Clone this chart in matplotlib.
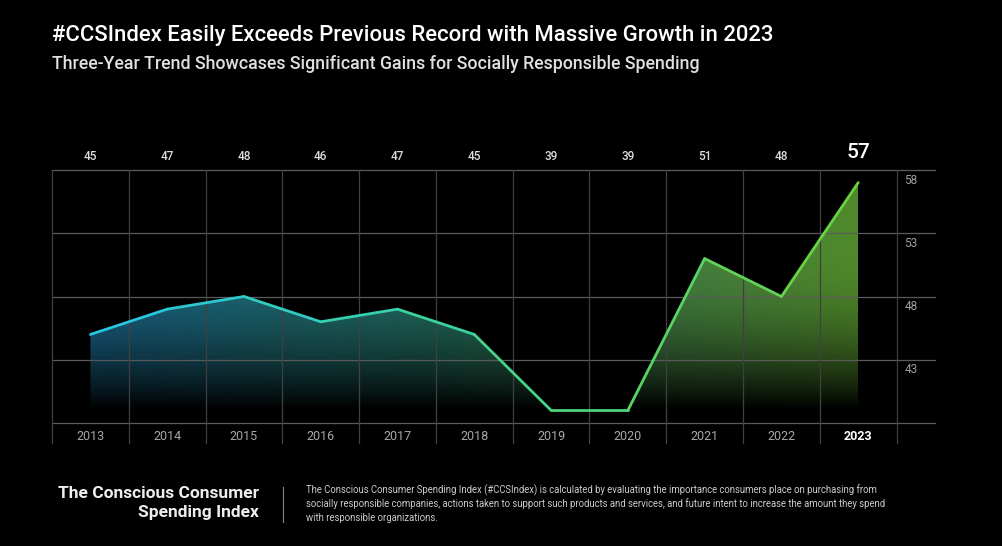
import numpy as np
import matplotlib
matplotlib.use("Agg")
import matplotlib.pyplot as plt
from matplotlib.colors import LinearSegmentedColormap
from matplotlib.collections import LineCollection

plt.rcParams['font.family'] = ['Roboto', 'DejaVu Sans']

years = ['2013', '2014', '2015', '2016', '2017', '2018', '2019', '2020', '2021', '2022', '2023']
index_values = [45, 47, 48, 46, 47, 45, 39, 39, 51, 48, 57]
y_ticks = [43, 48, 53, 58]

title = "#CCSIndex Easily Exceeds Previous Record with Massive Growth in 2023"
subtitle = "Three-Year Trend Showcases Significant Gains for Socially Responsible Spending"
footer_name = "The Conscious Consumer\nSpending Index"
footer_lines = [
    "The Conscious Consumer Spending Index (#CCSIndex) is calculated by evaluating the importance consumers place on purchasing from",
    "socially responsible companies, actions taken to support such products and services, and future intent to increase the amount they spend",
    "with responsible organizations.",
]

W, H = 1002, 546
fig = plt.figure(figsize=(W / 100, H / 100), dpi=100, facecolor='black')
ax = fig.add_axes([52 / W, (H - 423) / H, (935 - 52) / W, (423 - 170) / H])
ax.set_facecolor('black')
ax.set_xlim(-0.5, 11.0)
ax.set_ylim(38, 58)
ax.axis('off')

x = np.arange(len(years))
y = np.array(index_values, dtype=float)

# gradient fill clipped to area under the line
fill_cmap = LinearSegmentedColormap.from_list(
    'fill', [(0, '#1d7099'), (0.45, '#267a68'), (0.75, '#4a8c4a'), (1, '#5a9a30')])
line_cmap = LinearSegmentedColormap.from_list(
    'line', [(0, '#25c3e8'), (0.45, '#3bd2a0'), (0.75, '#58d468'), (1, '#6cd23c')])

bottom = 39.0
poly = ax.fill_between(x, y, bottom, color='none', lw=0)
nx, ny = 400, 300
gx = np.linspace(0, 1, nx)
gy = np.linspace(bottom, 58, ny)
rgba = fill_cmap(np.tile(gx, (ny, 1)))
t = np.clip((gy - bottom) / (52 - bottom), 0, 1)
alpha = 0.9 * (1 - (1 - t) ** 2)
rgba[..., 3] = alpha[:, None]
img = ax.imshow(rgba, extent=[0, 10, bottom, 58], origin='lower', aspect='auto',
                interpolation='bilinear', zorder=1)
img.set_clip_path(poly.get_paths()[0], transform=ax.transData)

# grid lines
for gv in [38] + y_ticks:
    ax.plot([-0.5, 11.0], [gv, gv], color='#5a5a5a', lw=0.9, zorder=2, clip_on=False)
for vx in np.arange(-0.5, 11, 1.0):
    ax.plot([vx, vx], [36.42, 58], color='#404040', lw=0.9, zorder=2, clip_on=False)

# gradient line
pts = np.column_stack([x, y])
segs = np.stack([pts[:-1], pts[1:]], axis=1)
seg_cols = line_cmap((x[:-1] + 0.5) / 10)
lc = LineCollection(segs, colors=seg_cols, linewidths=2.0, zorder=3, capstyle='round',
                    joinstyle='round')
ax.add_collection(lc)

# value labels above the chart
for i, v in enumerate(index_values):
    if i == len(index_values) - 1:
        ax.text(i, 59.35, str(v), color='white', fontsize=15, ha='center', va='center',
                fontweight='medium', clip_on=False)
    else:
        ax.text(i, 59.05, str(v), color='#dddddd', fontsize=8.5, ha='center', va='center',
                fontweight='medium', clip_on=False)

# year labels
for i, yr in enumerate(years):
    last = i == len(years) - 1
    ax.text(i, 36.97, yr, color='white' if last else '#a8a8a8', fontsize=9,
            ha='center', va='center', fontweight='bold' if last else 'normal', clip_on=False)

# right-side ticks
for tk in y_ticks:
    ax.text(10.6, tk - 0.8, str(tk), color='#a0a0a0', fontsize=8.5, ha='left', va='center',
            clip_on=False)

# titles
fig.text(52 / W, 1 - 36 / H, title, color='white', fontsize=15.9, fontweight='medium',
         ha='left', va='center')
fig.text(52 / W, 1 - 64 / H, subtitle, color='#e0e0e0', fontsize=12.75, fontweight='medium',
         ha='left', va='center')

# footer
fig.text(259 / W, 1 - 503 / H, footer_name, color='#eeeeee', fontsize=12.5, fontweight='bold',
         ha='right', va='center', linespacing=1.3)
fig.add_artist(plt.Line2D([283 / W, 283 / W], [1 - 487 / H, 1 - 522 / H], color='#888888',
                          lw=0.8))
for k, ln in enumerate(footer_lines):
    fig.text(306 / W, 1 - (490 + 14 * k) / H, ln, color='#cccccc', fontsize=6.85,
             ha='left', va='center')

fig.savefig('out.png', dpi=100, facecolor='black')
